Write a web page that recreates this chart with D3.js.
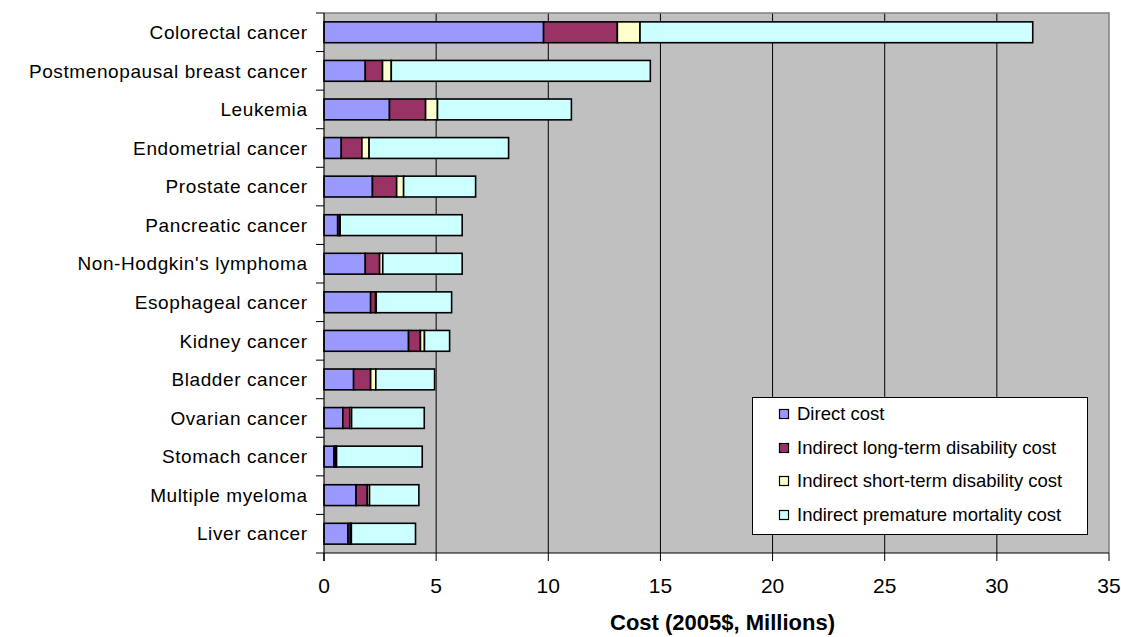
<!DOCTYPE html>
<html><head><meta charset="utf-8">
<script src="https://cdn.jsdelivr.net/npm/d3@7"></script>
<style>body{margin:0;background:#fff;}svg{display:block;font-family:"Liberation Sans",Arial,sans-serif;}</style>
</head><body><svg id="c" width="1121" height="637"></svg>
<script>
const categories = ["Colorectal cancer","Postmenopausal breast cancer","Leukemia","Endometrial cancer","Prostate cancer","Pancreatic cancer","Non-Hodgkin's lymphoma","Esophageal cancer","Kidney cancer","Bladder cancer","Ovarian cancer","Stomach cancer","Multiple myeloma","Liver cancer"];
const seriesNames = ["Direct cost","Indirect long-term disability cost","Indirect short-term disability cost","Indirect premature mortality cost"];
const directCost = [9.79,1.84,2.92,0.77,2.16,0.61,1.84,2.08,3.77,1.32,0.84,0.45,1.43,1.07];
const longTermCost = [3.29,0.77,1.61,0.92,1.08,0.08,0.64,0.22,0.53,0.76,0.31,0.08,0.50,0.11];
const shortTermCost = [1.01,0.39,0.53,0.32,0.31,0.03,0.14,0.03,0.18,0.23,0.08,0.03,0.10,0.04];
const mortalityCost = [17.51,11.55,5.97,6.22,3.21,5.44,3.54,3.36,1.12,2.62,3.24,3.82,2.20,2.86];
const xTicks = [0,5,10,15,20,25,30,35];
const colors = ["#9999FF","#993366","#FFFFCC","#CCFFFF"];

const svg = d3.select("#c");
const L = 324, R = 1109, T = 13, B = 553;
const x = d3.scaleLinear().domain([0,35]).range([L,R]);
const y = d3.scaleBand().domain(categories).range([T,B]).paddingInner(0.46).paddingOuter(0.23);
const yb = d3.scaleBand().domain(categories).range([T,B]);

const rows = categories.map((c,i)=>({cat:c, Direct:directCost[i], LT:longTermCost[i], ST:shortTermCost[i], PM:mortalityCost[i]}));
const keys = ["Direct","LT","ST","PM"];
const stack = d3.stack().keys(keys)(rows);

svg.append("rect").attr("x",L).attr("y",T).attr("width",R-L).attr("height",B-T).attr("fill","#C0C0C0");
// gridlines
svg.append("g").selectAll("line").data(xTicks.slice(1,-1)).join("line")
  .attr("x1",d=>x(d)).attr("x2",d=>x(d)).attr("y1",T).attr("y2",B)
  .attr("stroke","#000").attr("stroke-width",1);
// border top/right gray
svg.append("path").attr("d",`M${L},${T}H${R}V${B}`).attr("fill","none").attr("stroke","#808080").attr("stroke-width",1.5);

// bars
stack.forEach((s,k)=>{
  svg.append("g").selectAll("rect").data(s).join("rect")
    .attr("x",d=>x(d[0])).attr("width",d=>x(d[1])-x(d[0]))
    .attr("y",d=>y(d.data.cat)).attr("height",y.bandwidth())
    .attr("fill",colors[k]).attr("stroke","#000").attr("stroke-width",1.6);
});

// left axis
const gy = svg.append("g").attr("transform",`translate(${L},0)`);
gy.append("line").attr("x1",0).attr("x2",0).attr("y1",T).attr("y2",B+8).attr("stroke","#000").attr("stroke-width",1.2);
gy.selectAll("line.t").data(d3.range(categories.length+1)).join("line").attr("class","t")
  .attr("x1",-8).attr("x2",0).attr("y1",i=>T+i*yb.step()).attr("y2",i=>T+i*yb.step()).attr("stroke","#000");
gy.selectAll("text").data(categories).join("text")
  .attr("x",-16.4).attr("y",d=>yb(d)+yb.bandwidth()/2).attr("dy","0.35em")
  .attr("text-anchor","end").attr("font-size",19).attr("letter-spacing",0.6).text(d=>d);

// bottom axis
const gx = svg.append("g").attr("transform",`translate(0,${B})`);
gx.append("line").attr("x1",L).attr("x2",R).attr("stroke","#000").attr("stroke-width",1.2);
gx.selectAll("line.t").data(xTicks).join("line").attr("class","t")
  .attr("x1",d=>x(d)).attr("x2",d=>x(d)).attr("y1",0).attr("y2",8).attr("stroke","#000");
gx.selectAll("text").data(xTicks).join("text")
  .attr("x",d=>x(d)).attr("y",40).attr("text-anchor","middle").attr("font-size",21).text(d=>d);
svg.append("text").attr("x",(L+R)/2 + 6).attr("y",630).attr("text-anchor","middle")
  .attr("font-size",22).attr("font-weight","bold").text("Cost (2005$, Millions)");

// legend
const lg = svg.append("g");
lg.append("rect").attr("x",752.5).attr("y",397.5).attr("width",335).attr("height",137).attr("fill","#fff").attr("stroke","#000");
const ly = [414,448,481,515];
seriesNames.forEach((n,i)=>{
  lg.append("rect").attr("x",779.5).attr("y",ly[i]-4.5).attr("width",9).attr("height",9).attr("fill",colors[i]).attr("stroke","#000").attr("stroke-width",1.2);
  lg.append("text").attr("x",797).attr("y",ly[i]).attr("dy","0.35em").attr("font-size",18.5).text(n);
});
</script></body></html>
